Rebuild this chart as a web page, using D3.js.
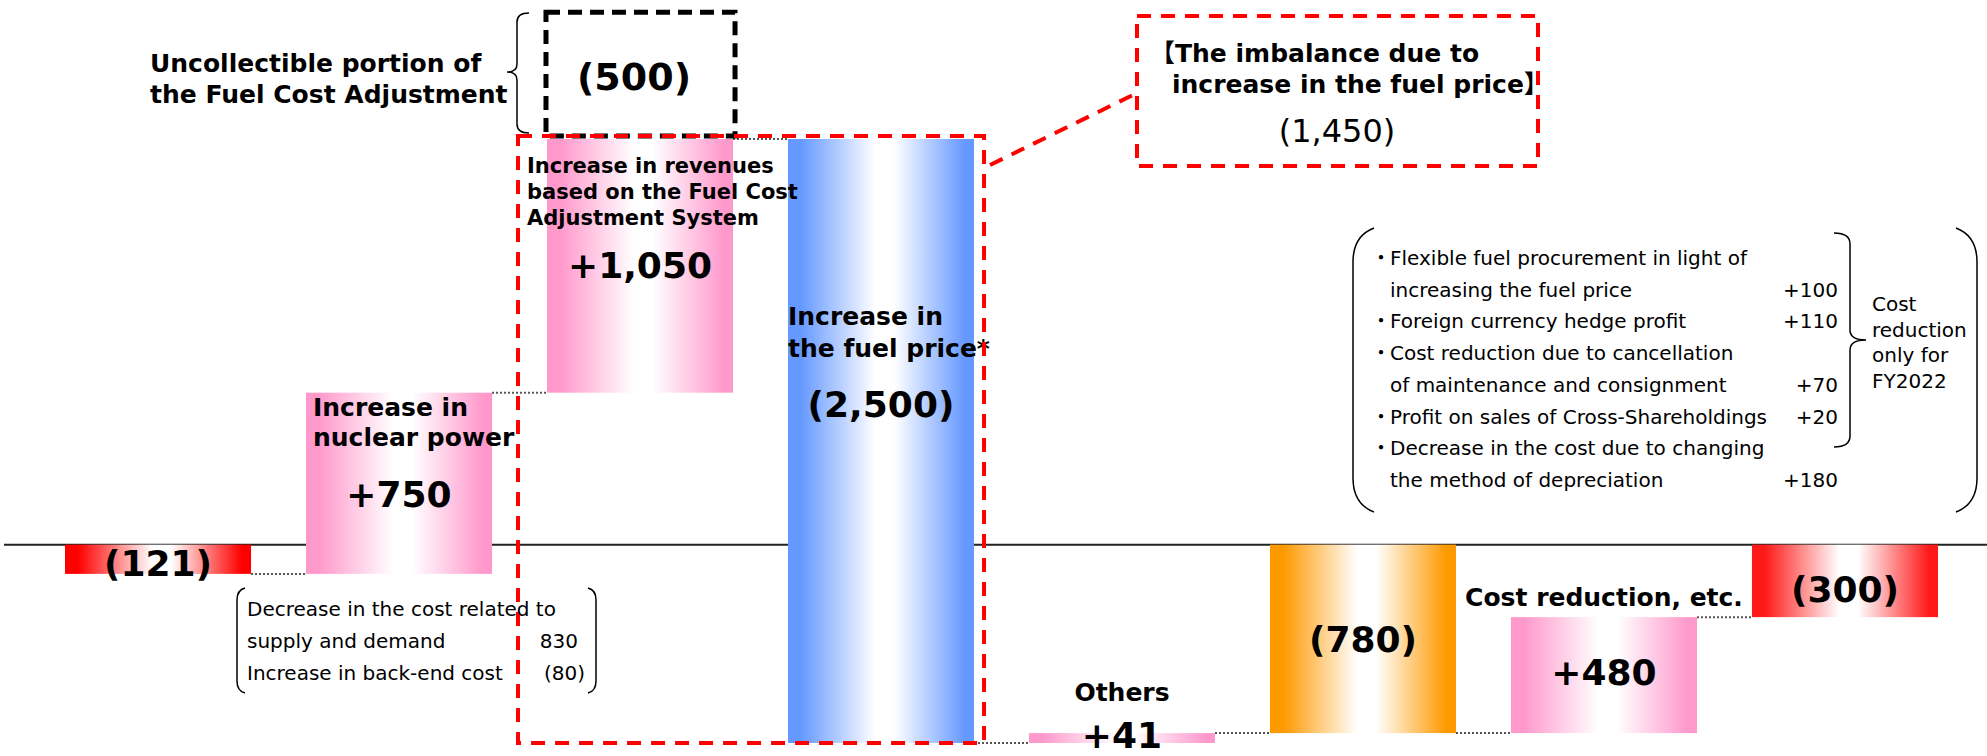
<!DOCTYPE html>
<html>
<head>
<meta charset="utf-8">
<script src="https://cdn.jsdelivr.net/npm/d3@7"></script>
<style>
  body { margin: 0; background: #fff; }
  text { font-family: "DejaVu Sans", "Noto Sans CJK JP", sans-serif; fill: #000; }
</style>
</head>
<body>
<div id="chart"></div>
<script>
// waterfall data (100 million yen)
const categories = ["FY2021", "Nuclear power", "Fuel Cost Adjustment", "Fuel price", "Others", "Subtotal", "Cost reduction", "FY2022"];
const values = [-121, 750, 1050, -2500, 41, -780, 480, -300];
const isTotal = [true, false, false, false, false, true, false, true];
const valueLabels = ["(121)", "+750", "+1,050", "(2,500)", "+41", "(780)", "+480", "(300)"];
const barTitles = [
  [],
  ["Increase in", "nuclear power"],
  ["Increase in revenues", "based on the Fuel Cost", "Adjustment System"],
  ["Increase in", "the fuel price*"],
  ["Others"],
  [],
  ["Cost reduction, etc."],
  []
];

const uncollectible = 500;
const uncollectibleLabel = "(500)";
const imbalanceTitle = ["【The imbalance due to", "increase in the fuel price】"];
const imbalanceLabel = "(1,450)";

const supplyLines = ["Decrease in the cost related to", "supply and demand", "Increase in back-end cost"];
const supplyValues = ["", "830", "(80)"];

const reductionLines = [
  "・Flexible fuel procurement in light of",
  "  increasing the fuel price",
  "・Foreign currency hedge profit",
  "・Cost reduction due to cancellation",
  "  of maintenance and consignment",
  "・Profit on sales of Cross-Shareholdings",
  "・Decrease in the cost due to changing",
  "  the method of depreciation"
];
const reductionValues = ["", "+100", "+110", "", "+70", "+20", "", "+180"];
const reductionNote = ["Cost", "reduction", "only for", "FY2022"];

// styles / layout, kept apart from the data
const barColors = ["#ff0000", "#ff99cc", "#ff99cc", "#6699ff", "#ff99cc", "#ff9900", "#ff99cc", "#ff1a1a"];
const valueDy = [17, 24, 12, -24, 10, 13, 10, 21];
const titleLayout = [
  null,
  { dx: 7, dy: 23, lh: 30, size: 25, anchor: "start" },
  { dx: -20, dy: 34, lh: 26, size: 21, anchor: "start" },
  { dx: 0, dy: 186, lh: 32, size: 25, anchor: "start" },
  { dx: 0, dy: -32, lh: 30, size: 25, anchor: "middle" },
  null,
  { dx: 0, dy: -11, lh: 30, size: 25, anchor: "middle" },
  null
];

const width = 1987, height = 756;

const svg = d3.select("#chart")
  .append("svg")
  .attr("width", width)
  .attr("height", height);

const x = d3.scaleBand()
  .domain(categories)
  .range([65, 1938])
  .paddingInner(0.228)
  .paddingOuter(0);

const y = d3.scaleLinear()
  .domain([-821, 1679])
  .range([743, 139]);

// running totals
let run = 0;
const bars = values.map((v, i) => {
  let y0, y1;
  if (isTotal[i]) { y0 = 0; y1 = v; run = v; }
  else { y0 = run; run += v; y1 = run; }
  return { i, key: categories[i], y0, y1, end: run };
});

// gradients: colour at the edges, white in the middle
const defs = svg.append("defs");
bars.forEach(d => {
  const c = barColors[d.i];
  const g = defs.append("linearGradient")
    .attr("id", `grad${d.i}`)
    .attr("x1", "0%").attr("x2", "100%").attr("y1", "0%").attr("y2", "0%");
  [[0, c], [0.07, c], [0.47, "#fff"], [0.57, "#fff"], [0.95, c], [1, c]].forEach(([o, col]) => {
    g.append("stop").attr("offset", o).attr("stop-color", col);
  });
});

const bw = x.bandwidth();

// baseline
svg.append("line")
  .attr("x1", 4).attr("x2", width)
  .attr("y1", y(0)).attr("y2", y(0))
  .attr("stroke", "#222").attr("stroke-width", 2);

// bars
svg.selectAll("rect.bar")
  .data(bars)
  .enter()
  .append("rect")
  .attr("class", "bar")
  .attr("x", d => x(d.key))
  .attr("y", d => y(Math.max(d.y0, d.y1)))
  .attr("width", bw)
  .attr("height", d => Math.abs(y(d.y0) - y(d.y1)))
  .style("fill", d => `url(#grad${d.i})`);

// dotted connectors
svg.selectAll("line.conn")
  .data(bars.slice(0, -1))
  .enter()
  .append("line")
  .attr("x1", d => x(d.key) + bw)
  .attr("x2", d => x(categories[d.i + 1]))
  .attr("y1", d => y(d.end))
  .attr("y2", d => y(d.end))
  .attr("stroke", "#555")
  .attr("stroke-width", 2)
  .attr("stroke-dasharray", "2,2");

// value labels
svg.selectAll("text.val")
  .data(bars)
  .enter()
  .append("text")
  .attr("x", d => x(d.key) + bw / 2)
  .attr("y", d => (y(d.y0) + y(d.y1)) / 2 + valueDy[d.i])
  .attr("text-anchor", "middle")
  .style("font-size", "36px")
  .style("font-weight", "bold")
  .text(d => valueLabels[d.i]);

// bar titles
bars.forEach(d => {
  const lay = titleLayout[d.i];
  if (!lay) return;
  const top = y(Math.max(d.y0, d.y1));
  const tx = lay.anchor === "middle" ? x(d.key) + bw / 2 + lay.dx : x(d.key) + lay.dx;
  barTitles[d.i].forEach((line, k) => {
    svg.append("text")
      .attr("x", tx)
      .attr("y", top + lay.dy + k * lay.lh)
      .attr("text-anchor", lay.anchor)
      .style("font-size", lay.size + "px")
      .style("font-weight", "bold")
      .text(line);
  });
});

// uncollectible portion: dashed black box above the fuel cost adjustment bar
const b3 = bars[2];
svg.append("rect")
  .attr("x", x(b3.key) - 1)
  .attr("y", y(b3.end + uncollectible) - 6)
  .attr("width", bw + 3)
  .attr("height", y(b3.end) - y(b3.end + uncollectible) + 3)
  .attr("fill", "none")
  .attr("stroke", "#000")
  .attr("stroke-width", 5)
  .attr("stroke-dasharray", "14,8");

svg.append("text")
  .attr("x", x(b3.key) + bw / 2 - 6)
  .attr("y", 90)
  .attr("text-anchor", "middle")
  .style("font-size", "38px")
  .style("font-weight", "bold")
  .text(uncollectibleLabel);

svg.append("path")
  .attr("d", "M529,13 Q517,13 517,22 L517,64 Q517,72 507,72 Q517,72 517,80 L517,124 Q517,133 529,133")
  .attr("fill", "none").attr("stroke", "#000").attr("stroke-width", 1.5);

["Uncollectible portion of", "the Fuel Cost Adjustment"].forEach((t, k) => {
  svg.append("text")
    .attr("x", 150).attr("y", 72 + k * 31)
    .style("font-size", "25px").style("font-weight", "bold")
    .text(t);
});

// red dashed frame around the fuel price effect
const b4 = bars[3];
const fx0 = x(b3.key) - 29, fx1 = x(b4.key) + bw + 10;
const fy0 = y(b3.end) - 3, fy1 = y(b4.end);
svg.append("rect")
  .attr("x", fx0).attr("y", fy0)
  .attr("width", fx1 - fx0).attr("height", fy1 - fy0)
  .attr("fill", "none")
  .attr("stroke", "#ff0000")
  .attr("stroke-width", 4)
  .attr("stroke-dasharray", "14,10");

svg.append("line")
  .attr("x1", fx1 + 6).attr("y1", 165)
  .attr("x2", 1137).attr("y2", 93)
  .attr("stroke", "#ff0000").attr("stroke-width", 4)
  .attr("stroke-dasharray", "14,10");

svg.append("rect")
  .attr("x", 1137).attr("y", 16)
  .attr("width", 401).attr("height", 150)
  .attr("fill", "none")
  .attr("stroke", "#ff0000")
  .attr("stroke-width", 4)
  .attr("stroke-dasharray", "14,10");

imbalanceTitle.forEach((t, k) => {
  svg.append("text")
    .attr("x", k === 0 ? 1150 : 1172)
    .attr("y", 62 + k * 31)
    .style("font-size", "25px").style("font-weight", "bold")
    .text(t);
});
svg.append("text")
  .attr("x", 1337).attr("y", 142)
  .attr("text-anchor", "middle")
  .style("font-size", "32px")
  .text(imbalanceLabel);

// breakdown of the nuclear power effect
svg.append("path")
  .attr("d", "M245,588 Q237,590 237,600 L237,681 Q237,691 245,693")
  .attr("fill", "none").attr("stroke", "#000").attr("stroke-width", 1.5);
svg.append("path")
  .attr("d", "M588,588 Q596,590 596,600 L596,681 Q596,691 588,693")
  .attr("fill", "none").attr("stroke", "#000").attr("stroke-width", 1.5);

supplyLines.forEach((t, k) => {
  svg.append("text")
    .attr("x", 247).attr("y", 616 + k * 32)
    .style("font-size", "20px")
    .text(t);
  if (supplyValues[k]) {
    svg.append("text")
      .attr("x", k === 2 ? 585 : 578).attr("y", 616 + k * 32)
      .attr("text-anchor", "end")
      .style("font-size", "20px")
      .text(supplyValues[k]);
  }
});

// breakdown of cost reductions
svg.append("path")
  .attr("d", "M1374,228 Q1353,236 1353,262 L1353,478 Q1353,504 1374,512")
  .attr("fill", "none").attr("stroke", "#000").attr("stroke-width", 1.5);
svg.append("path")
  .attr("d", "M1956,228 Q1977,236 1977,262 L1977,478 Q1977,504 1956,512")
  .attr("fill", "none").attr("stroke", "#000").attr("stroke-width", 1.5);
svg.append("path")
  .attr("d", "M1834,233 Q1850,233 1850,244 L1850,330 Q1850,340 1866,340 Q1850,340 1850,350 L1850,436 Q1850,447 1834,447")
  .attr("fill", "none").attr("stroke", "#000").attr("stroke-width", 1.5);

reductionLines.forEach((t, k) => {
  const ly = 265 + k * 31.7;
  const bullet = t.startsWith("・");
  if (bullet) {
    svg.append("text")
      .attr("x", 1381).attr("y", ly)
      .attr("text-anchor", "middle")
      .style("font-size", "20px")
      .text("・");
  }
  svg.append("text")
    .attr("x", 1390).attr("y", ly)
    .style("font-size", "20px")
    .text(t.replace("・", "").trim());
  if (reductionValues[k]) {
    svg.append("text")
      .attr("x", 1838).attr("y", ly)
      .attr("text-anchor", "end")
      .style("font-size", "20px")
      .text(reductionValues[k]);
  }
});

reductionNote.forEach((t, k) => {
  svg.append("text")
    .attr("x", 1872).attr("y", 311 + k * 25.5)
    .style("font-size", "20px")
    .text(t);
});
</script>
</body>
</html>
